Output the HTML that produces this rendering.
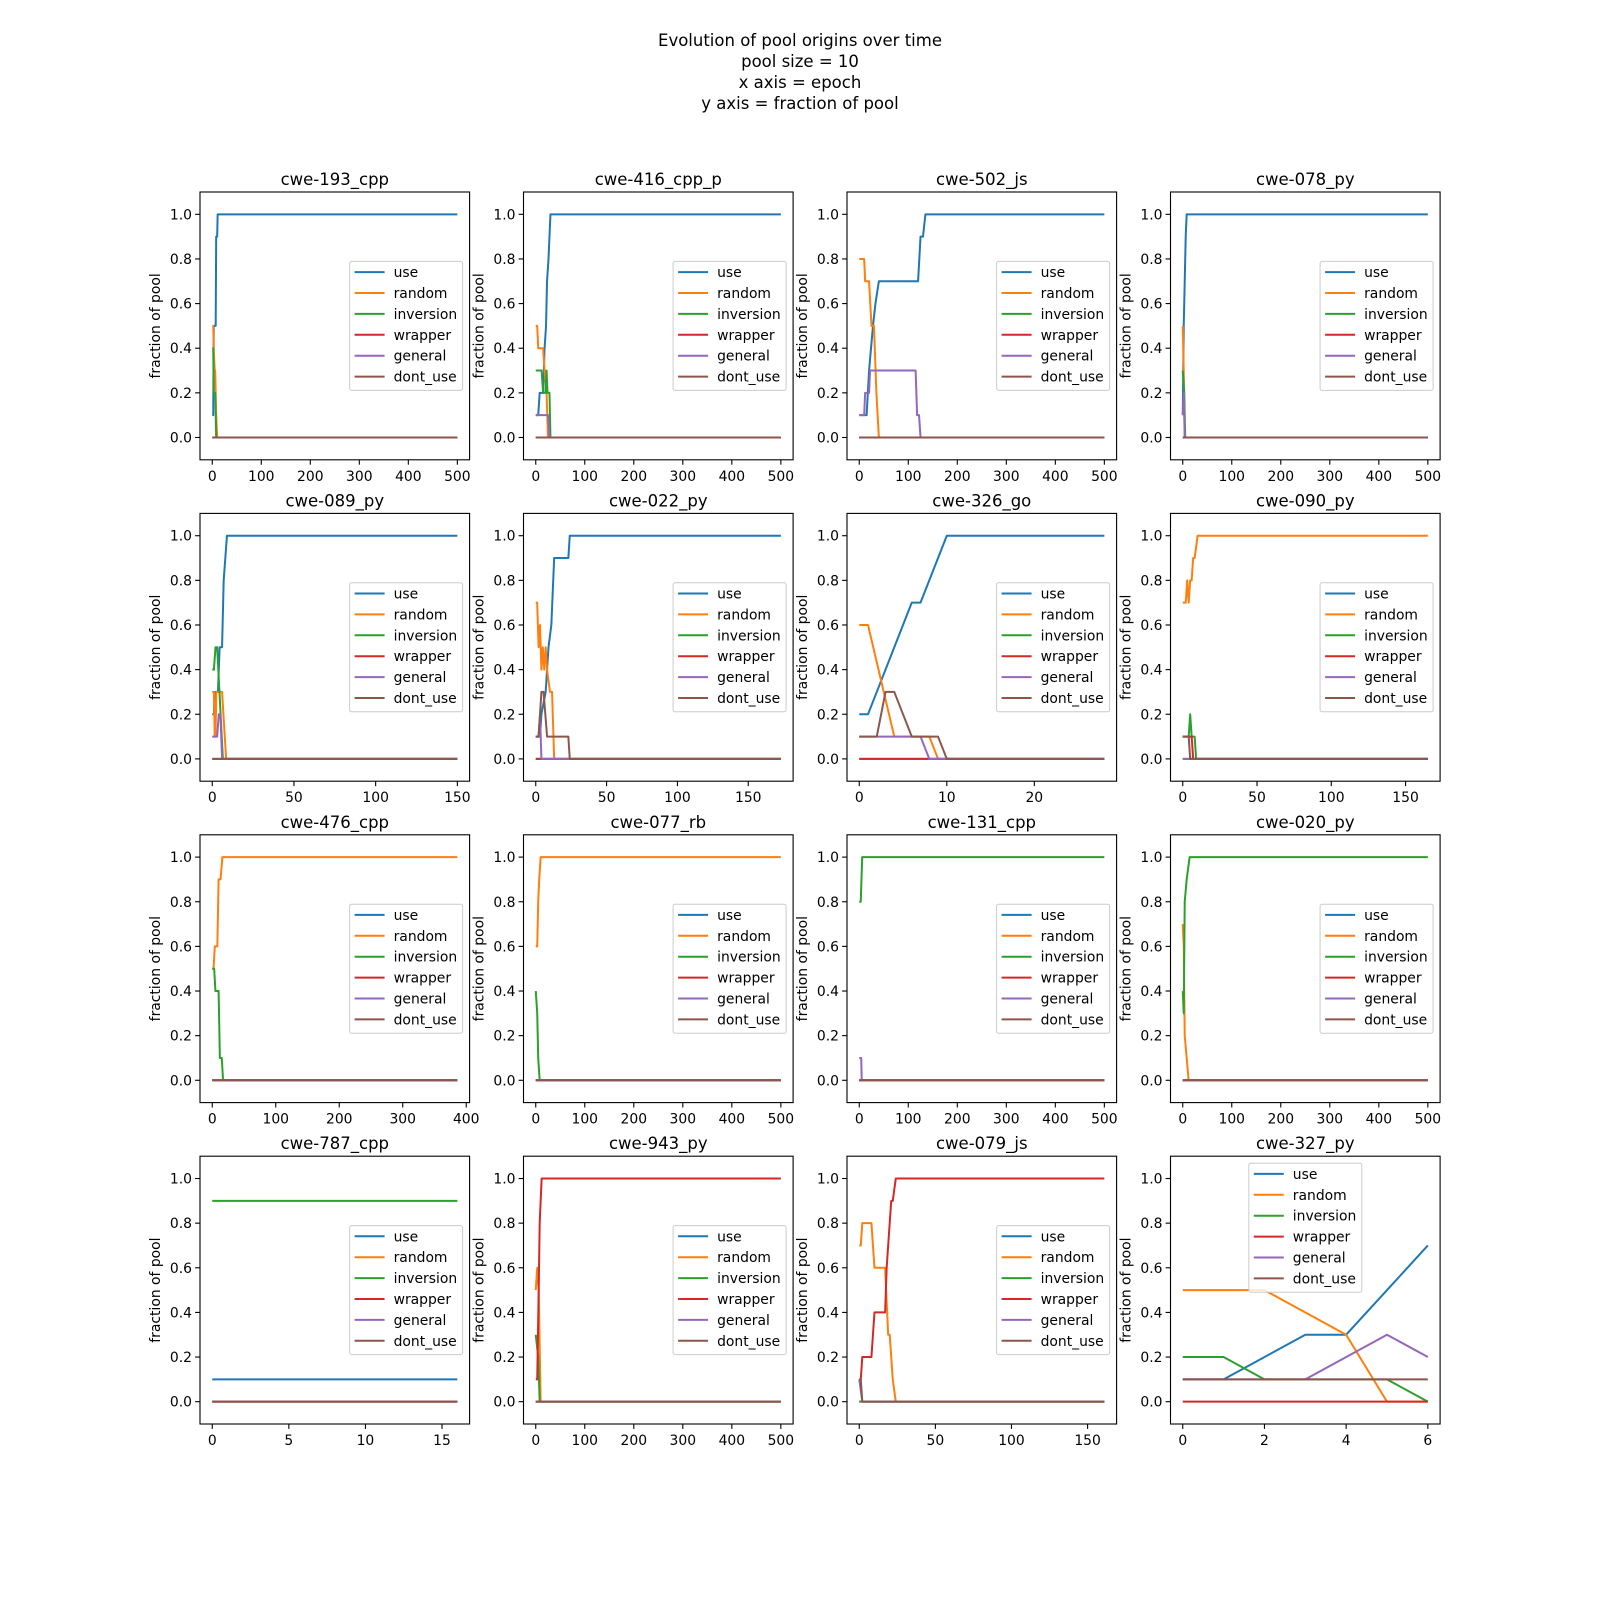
<!DOCTYPE html>
<html><head><meta charset="utf-8"><style>
html,body{margin:0;padding:0;background:#fff;}
svg{display:block;font-family:"DejaVu Sans","Liberation Sans",sans-serif;}
</style></head><body>
<svg id="fig" width="1600" height="1600" viewBox="0 0 1600 1600">
<g font-size="16.5" text-anchor="middle" fill="#000">
<text x="800" y="46">Evolution of pool origins over time</text>
<text x="800" y="67">pool size = 10</text>
<text x="800" y="88">x axis = epoch</text>
<text x="800" y="109">y axis = fraction of pool</text>
</g>
</svg>
<script>
const titles = ["cwe-193_cpp","cwe-416_cpp_p","cwe-502_js","cwe-078_py","cwe-089_py","cwe-022_py","cwe-326_go","cwe-090_py","cwe-476_cpp","cwe-077_rb","cwe-131_cpp","cwe-020_py","cwe-787_cpp","cwe-943_py","cwe-079_js","cwe-327_py"];
const xMaxes = [500,500,500,500,150,173,28,165,386,500,500,500,16,500,161,6];
const xTicks = [
 [0,100,200,300,400,500],[0,100,200,300,400,500],[0,100,200,300,400,500],[0,100,200,300,400,500],
 [0,50,100,150],[0,50,100,150],[0,10,20],[0,50,100,150],
 [0,100,200,300,400],[0,100,200,300,400,500],[0,100,200,300,400,500],[0,100,200,300,400,500],
 [0,5,10,15],[0,100,200,300,400,500],[0,50,100,150],[0,2,4,6]];
const yTicks = [0,0.2,0.4,0.6,0.8,1.0];
const seriesNames = ["use","random","inversion","wrapper","general","dont_use"];
const useSeries = [
 [[0,.1],[2,.1],[3,.5],[7,.5],[8,.9],[10,.9],[11,1],[500,1]],
 [[0,.1],[5,.1],[8,.2],[15,.2],[18,.4],[21,.5],[23,.7],[26,.8],[30,1],[500,1]],
 [[0,.1],[15,.1],[20,.3],[28,.5],[33,.6],[40,.7],[120,.7],[125,.9],[130,.9],[135,1],[500,1]],
 [[0,.1],[2,.5],[4,.7],[6,.9],[8,1],[500,1]],
 [[0,.2],[1,.2],[1.5,.3],[3.5,.3],[4.5,.5],[6,.5],[7,.8],[9,1],[150,1]],
 [[0,.1],[3,.1],[4,.2],[7,.3],[9,.5],[11,.6],[13,.9],[23,.9],[24,1],[173,1]],
 [[0,.2],[1,.2],[6,.7],[7,.7],[10,1],[28,1]],
 null,null,null,null,null,
 [[0,.1],[16,.1]],
 null,null,
 [[0,.1],[1,.1],[3,.3],[4,.3],[6,.7]]];
const randomSeries = [
 [[0,.5],[2,.5],[3,.4],[5,.3],[6,.3],[8,.1],[10,0],[500,0]],
 [[0,.5],[3,.5],[5,.4],[15,.4],[18,.3],[22,.2],[25,0],[500,0]],
 [[0,.8],[10,.8],[12,.7],[20,.7],[25,.5],[30,.5],[35,.2],[40,0],[500,0]],
 [[0,.5],[2,.3],[4,0],[500,0]],
 [[0,.3],[1,.3],[1.5,.1],[2,.1],[2.5,.3],[6,.3],[8.5,0],[150,0]],
 [[0,.7],[1,.7],[2,.5],[3,.6],[4,.4],[5,.5],[6,.4],[7,.5],[8,.4],[10,.3],[11.5,.3],[13,0],[173,0]],
 [[0,.6],[1,.6],[4,.1],[8,.1],[9,0],[28,0]],
 [[0,.7],[2,.7],[3,.8],[4,.7],[5,.8],[6,.8],[7,.9],[8,.9],[10,1],[165,1]],
 [[0,.5],[2,.5],[4,.6],[8,.6],[10,.9],[13,.9],[16,1],[386,1]],
 [[0,.6],[3,.6],[5,.8],[7,.9],[10,1],[500,1]],
 null,
 [[0,.7],[2,.6],[4,.2],[8,.1],[12,0],[500,0]],
 null,
 [[0,.5],[3,.6],[6,.5],[10,0],[500,0]],
 [[0,.7],[1,.7],[2,.8],[8,.8],[10,.6],[17,.6],[19,.3],[20,.3],[22,.1],[24,0],[161,0]],
 [[0,.5],[2,.5],[4,.3],[5,0],[6,0]]];
const inversionSeries = [
 [[0,.4],[2,.4],[3,.2],[6,.2],[8,0],[500,0]],
 [[0,.3],[12,.3],[15,.2],[20,.2],[22,.3],[24,.2],[28,.2],[30,0],[500,0]],
 null,
 [[0,.3],[3,.2],[5,0],[500,0]],
 [[0,.4],[1,.4],[2,.5],[3,.5],[3.7,.4],[6.5,0],[150,0]],
 null,null,
 [[0,.1],[4,.1],[5,.2],[6,.1],[8,.1],[9,0],[165,0]],
 [[0,.5],[3,.5],[5,.4],[10,.4],[12,.1],[15,.1],[17,0],[386,0]],
 [[0,.4],[3,.3],[5,.1],[8,0],[500,0]],
 [[0,.8],[3,.8],[6,1],[500,1]],
 [[0,.4],[2,.3],[4,.8],[8,.9],[14,1],[500,1]],
 [[0,.9],[16,.9]],
 [[0,.3],[5,.2],[8,0],[500,0]],
 null,
 [[0,.2],[1,.2],[2,.1],[5,.1],[6,0]]];
const wrapperSeries = [
 null,null,null,null,null,null,null,
 [[0,.1],[6,.1],[7,0],[165,0]],
 null,null,null,null,null,
 [[0,.1],[3,.1],[6,.5],[8,.8],[12,1],[500,1]],
 [[0,.1],[1,.1],[2,.2],[8,.2],[10,.4],[17,.4],[18,.6],[19,.7],[21,.9],[22,.9],[24,1],[161,1]],
 null];
const generalSeries = [
 null,
 [[0,.1],[25,.1],[28,0],[500,0]],
 [[0,.1],[10,.1],[12,.2],[20,.2],[22,.3],[115,.3],[118,.1],[122,.1],[125,0],[500,0]],
 [[0,.1],[2,.2],[4,0],[500,0]],
 [[0,.1],[3,.1],[4,.2],[5,.2],[6,0],[150,0]],
 [[0,.1],[2,.1],[3,.2],[4,0],[173,0]],
 [[0,.1],[7,.1],[8,0],[28,0]],
 null,null,null,
 [[0,.1],[4,.1],[5,0],[500,0]],
 null,null,null,
 [[0,.1],[2,0],[161,0]],
 [[0,.1],[3,.1],[5,.3],[6,.2]]];
const dontUseSeries = [
 null,null,null,null,null,
 [[0,.1],[2,.1],[3,.2],[4,.3],[5.5,.3],[8,.1],[23,.1],[24,0],[173,0]],
 [[0,.1],[2,.1],[3,.3],[4,.3],[6,.1],[9,.1],[10,0],[28,0]],
 [[0,.1],[4,.1],[5,0],[165,0]],
 null,null,null,null,null,null,
 [[0,.1],[1,.1],[2,0],[161,0]],
 [[0,.1],[6,.1]]];
const allSeries = [useSeries, randomSeries, inversionSeries, wrapperSeries, generalSeries, dontUseSeries];
const colors = ["#1f77b4","#ff7f0e","#2ca02c","#d62728","#9467bd","#8c564b"];

const NS = "http://www.w3.org/2000/svg";
const fig = document.getElementById("fig");
function mk(tag, attrs, parent){const e=document.createElementNS(NS,tag);for(const k in attrs)e.setAttribute(k,attrs[k]);parent.appendChild(e);return e;}

const AX_W = 269.6, AX_H = 267.8, COL_STEP = 323.5, ROW_STEP = 321.4, LEFT0 = 200, TOP0 = 192;
for (let p = 0; p < 16; p++) {
  const col = p % 4, row = Math.floor(p / 4);
  const L = LEFT0 + col*COL_STEP, T = TOP0 + row*ROW_STEP;
  const xmax = xMaxes[p];
  const xs = v => L + (v + 0.05*xmax) / (1.1*xmax) * AX_W;
  const ys = v => T + (1.1 - v) / 1.2 * AX_H;
  const g = mk("g", {}, fig);
  
  
  const t = mk("text", {x: L+AX_W/2, y: T-7, "text-anchor":"middle", "font-size":"16.5"}, g);
  t.textContent = titles[p];
  
  
  const lg = mk("g", {}, g);
  
  
  for (let s = 0; s < 6; s++) {
    let pts = allSeries[s][p];
    if (!pts) pts = [[0,0],[xmax,0]];
    const d = pts.map((q,i)=>(i?"L":"M")+xs(q[0]).toFixed(2)+" "+ys(q[1]).toFixed(2)).join(" ");
    const path = mk("path", {d: d, fill:"none", stroke: colors[s], "stroke-width":"2", "stroke-linejoin":"round"}, lg);
    
    
  }
  const fr = mk("rect", {x:L, y:T, width:AX_W, height:AX_H, fill:"none", stroke:"#000", "stroke-width":"1.1"}, g);
  
  
  for (const v of yTicks) {
    const y = ys(v);
    mk("line", {x1:L-4.9, x2:L, y1:y, y2:y, stroke:"#000", "stroke-width":"1.1"}, g);
    const tx = mk("text", {x:L-8, y:y+5, "text-anchor":"end", "font-size":"13.9"}, g);
    tx.textContent = v.toFixed(1);
    
    
  }
  for (const v of xTicks[p]) {
    const x = xs(v);
    mk("line", {x1:x, x2:x, y1:T+AX_H, y2:T+AX_H+4.9, stroke:"#000", "stroke-width":"1.1"}, g);
    const tx = mk("text", {x:x, y:T+AX_H+21, "text-anchor":"middle", "font-size":"13.9"}, g);
    tx.textContent = String(v);
    
    
  }
  const yl = mk("text", {x:0, y:0, "text-anchor":"middle", "font-size":"13.9", transform:"translate("+(L-40)+","+(T+AX_H/2)+") rotate(-90)"}, g);
  yl.textContent = "fraction of pool";
  
  
  const LW = 113, LH = 129;
  let lx, ly;
  if (p === 15) { lx = L + AX_W/2 - LW/2; ly = T + 7; }
  else { lx = L + AX_W - 7 - LW; ly = T + AX_H/2 - LH/2; }
  const leg = mk("g", {}, g);
  
  
  mk("rect", {x:lx, y:ly, width:LW, height:LH, rx:2, fill:"#fff", "fill-opacity":"0.8", stroke:"#ccc", "stroke-width":"1"}, leg);
  for (let s = 0; s < 6; s++) {
    const cy = ly + 10.7 + s*20.9;
    const e = mk("g", {}, leg);
    
    
    mk("line", {x1:lx+5, x2:lx+35, y1:cy, y2:cy, stroke:colors[s], "stroke-width":"2"}, e);
    const tx = mk("text", {x:lx+44, y:cy+5, "font-size":"13.9"}, e);
    tx.textContent = seriesNames[s];
  }
}
</script>
</body></html>
